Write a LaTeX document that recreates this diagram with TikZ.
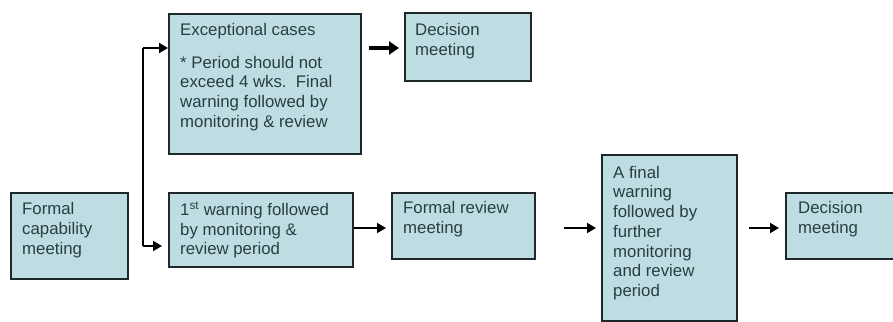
\documentclass[tikz,border=0pt]{standalone}
\usepackage{fontspec}
\setmainfont{Liberation Sans}
\usetikzlibrary{arrows.meta}
\definecolor{boxfill}{RGB}{190,221,227}
\definecolor{boxline}{RGB}{30,40,42}
\definecolor{txtcol}{RGB}{40,62,68}
\begin{document}
\begin{tikzpicture}[x=1pt,y=1pt,
  box/.style={draw=boxline, fill=boxfill, line width=2pt, anchor=north west, inner sep=0pt},
  txt/.style={anchor=west, inner sep=0pt, align=left, text=txtcol,
    font=\fontsize{16.8}{19.7}\selectfont},
  arr/.style={draw=black, line width=1.8pt, -{Triangle[length=9pt,width=10pt]}},
  bigarr/.style={draw=black, line width=3.5pt, -{Triangle[length=10pt,width=13pt]}}]
\useasboundingbox (0,0) rectangle (893,-321);
% boxes
\node[box, minimum width=192pt, minimum height=140pt] (exc) at (168,-13) {};
\node[box, minimum width=126pt, minimum height=68pt] (dec1) at (404,-12) {};
\node[box, minimum width=117pt, minimum height=86pt] (cap) at (10,-192) {};
\node[box, minimum width=184pt, minimum height=74pt] (w1) at (168,-192) {};
\node[box, minimum width=143pt, minimum height=66pt] (rev) at (391,-192) {};
\node[box, minimum width=135pt, minimum height=166pt] (fin) at (601,-154) {};
\node[box, minimum width=109pt, minimum height=66pt] (dec2) at (785,-192) {};
% texts
\node[txt] (exct) at (180,-77) {Exceptional cases\\[13pt]* Period should not\\exceed 4 wks.\ \ Final\\warning followed by\\monitoring \& review};
\node[txt] (dec1t) at (415,-41) {Decision\\meeting};
\node[txt] (capt) at (22,-230) {Formal\\capability\\meeting};
\node[txt] (w1t) at (180,-230) {1\textsuperscript{st} warning followed\\by monitoring \&\\review period};
\node[txt] (revt) at (403,-219) {Formal review\\meeting};
\node[txt] (fint) at (613,-233) {A final\\warning\\followed by\\further\\monitoring\\and review\\period};
\node[txt] (dec2t) at (798,-219) {Decision\\meeting};
% connectors
\coordinate (jt) at (143,-48);
\coordinate (jb) at (143,-246);
\coordinate (row) at (0,-228);
\draw[line width=2.2pt] (jt) -- (jb);
\draw[arr] (jt) -- (jt -| exc.west);
\draw[arr, shorten >=6pt] (jb) -- (jb -| w1.west);
\draw[bigarr, shorten <=7pt, shorten >=5pt] (exc.east |- jt) -- (dec1.west |- jt);
\draw[arr, shorten >=5pt] (w1.east |- row) -- (rev.west |- row);
\draw[arr, shorten <=28pt, shorten >=5pt] (rev.east |- row) -- (fin.west |- row);
\draw[arr, shorten <=11pt, shorten >=6pt] (fin.east |- row) -- (dec2.west |- row);
\end{tikzpicture}
\end{document}
